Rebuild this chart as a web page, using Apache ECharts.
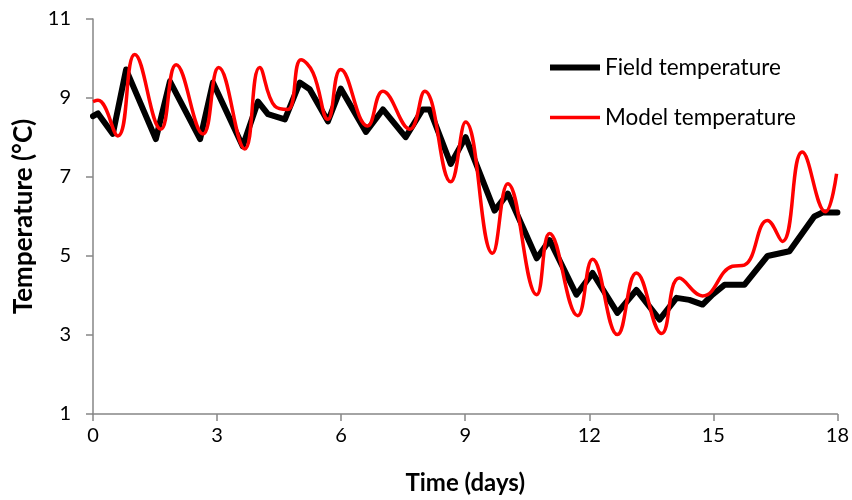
<!DOCTYPE html>
<html>
<head>
<meta charset="utf-8">
<script src="https://cdn.jsdelivr.net/npm/echarts@6/dist/echarts.min.js"></script>
<style>
html,body{margin:0;padding:0;background:#fff;}
#c{width:852px;height:500px;}
</style>
</head>
<body>
<div id="c"></div>
<script>
// Field temperature (black): [day, °C]
const fieldDays = [0, 0.12, 0.48, 0.80, 1.52, 1.86, 2.59, 2.90, 3.62, 3.99, 4.23, 4.64, 5.00, 5.24, 5.68, 5.99, 6.60, 7.01, 7.56, 7.97, 8.14, 8.65, 9.01, 9.71, 10.03, 10.73, 11.04, 11.69, 12.08, 12.68, 13.14, 13.70, 14.11, 14.42, 14.74, 14.98, 15.27, 15.75, 16.31, 16.84, 17.44, 17.64, 18.0];
const fieldTemps = [8.54, 8.61, 8.09, 9.72, 7.96, 9.42, 7.96, 9.39, 7.78, 8.91, 8.59, 8.46, 9.39, 9.22, 8.41, 9.24, 8.14, 8.71, 8.01, 8.71, 8.71, 7.33, 8.01, 6.15, 6.58, 4.94, 5.40, 4.02, 4.57, 3.56, 4.14, 3.39, 3.94, 3.89, 3.77, 4.02, 4.27, 4.27, 5.0, 5.12, 6.0, 6.1, 6.1];
// Model temperature (red): [day, °C]
const modelDays = [0, 0.12, 0.60, 1.01, 1.64, 2.01, 2.66, 3.04, 3.67, 4.03, 4.40, 4.71, 5.03, 5.32, 5.68, 5.99, 6.64, 7.01, 7.66, 8.02, 8.65, 9.01, 9.66, 10.03, 10.73, 11.04, 11.72, 12.08, 12.68, 13.14, 13.75, 14.18, 14.74, 15.46, 15.75, 16.31, 16.67, 17.15, 17.71, 17.98];
const modelTemps = [8.91, 8.94, 8.04, 10.1, 8.21, 9.84, 8.09, 9.77, 7.71, 9.77, 8.79, 8.71, 9.97, 9.64, 8.46, 9.72, 8.29, 9.17, 8.21, 9.17, 6.88, 8.39, 5.07, 6.83, 4.02, 5.57, 3.49, 4.92, 3.01, 4.57, 3.04, 4.44, 3.99, 4.74, 4.77, 5.9, 5.37, 7.63, 6.12, 7.08];
const xTicks = [0, 3, 6, 9, 12, 15, 18];
const yTicks = [1, 3, 5, 7, 9, 11];
const seriesNames = ['Field temperature', 'Model temperature'];
const xTitle = 'Time (days)';
const yTitle = 'Temperature (°C)';

const zip = (a, b) => a.map((v, i) => [v, b[i]]);
const font = 'Lato, "Liberation Sans", sans-serif';
const axisGray = '#868686';
const fieldStyle = {color: '#000', width: 6};
const modelStyle = {color: '#ff0000', width: 3.5};

const chart = echarts.init(document.getElementById('c'), null, {renderer: 'canvas'});
chart.setOption({
  animation: false,
  backgroundColor: '#fff',
  grid: {left: 93, right: 14, top: 19, bottom: 83, containLabel: false},
  legend: {
    orient: 'vertical',
    left: 542, top: 51,
    itemWidth: 50, itemHeight: 1,
    itemGap: 27,
    itemStyle: {opacity: 0},
    textStyle: {fontFamily: font, fontSize: 22.5, color: '#000'},
    data: [
      {name: seriesNames[0], lineStyle: {color: fieldStyle.color, width: fieldStyle.width, cap: 'butt'}},
      {name: seriesNames[1], lineStyle: {color: modelStyle.color, width: modelStyle.width, cap: 'butt'}}
    ]
  },
  xAxis: {
    type: 'value', min: xTicks[0], max: xTicks[xTicks.length - 1], interval: 3,
    name: xTitle, nameLocation: 'middle', nameGap: 57,
    nameTextStyle: {fontFamily: font, fontSize: 24, fontWeight: 'bold', color: '#000'},
    axisLine: {show: true, onZero: false, lineStyle: {color: axisGray, width: 1.5}},
    axisTick: {show: true, length: 7, lineStyle: {color: axisGray, width: 1.5}, customValues: xTicks},
    axisLabel: {fontFamily: font, fontSize: 20, color: '#000', margin: 12, customValues: xTicks},
    splitLine: {show: false}
  },
  yAxis: {
    type: 'value', min: yTicks[0], max: yTicks[yTicks.length - 1],
    name: yTitle, nameLocation: 'middle', nameGap: 52, nameRotate: 90,
    nameTextStyle: {fontFamily: font, fontSize: 26, fontWeight: 'bold', color: '#000'},
    axisLine: {show: true, onZero: false, lineStyle: {color: axisGray, width: 1.5}},
    axisTick: {show: true, length: 7, lineStyle: {color: axisGray, width: 1.5}, customValues: yTicks},
    axisLabel: {fontFamily: font, fontSize: 20, color: '#000', margin: 22, customValues: yTicks},
    splitLine: {show: false}
  },
  series: [
    {
      name: seriesNames[0], type: 'line', data: zip(fieldDays, fieldTemps),
      symbol: 'none', smooth: false,
      lineStyle: {color: fieldStyle.color, width: fieldStyle.width, join: 'round', cap: 'round'},
      itemStyle: {color: fieldStyle.color}
    },
    {
      name: seriesNames[1], type: 'line', data: zip(modelDays, modelTemps),
      symbol: 'none', smooth: 0.45,
      lineStyle: {color: modelStyle.color, width: modelStyle.width},
      itemStyle: {color: modelStyle.color}
    }
  ]
});
</script>
</body>
</html>
